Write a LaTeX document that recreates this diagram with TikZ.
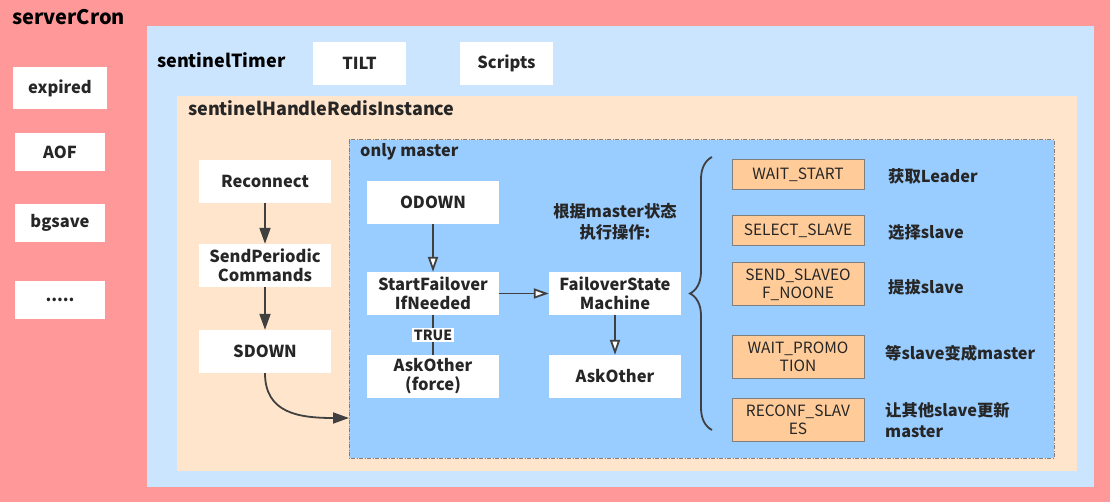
\documentclass[tikz,border=0pt]{standalone}
\usepackage{fontspec}
\setmainfont{Noto Sans CJK SC}
\usetikzlibrary{arrows.meta}
\usetikzlibrary{positioning}
\usetikzlibrary{decorations.pathreplacing}
\definecolor{cronpink}{HTML}{FF9999}
\definecolor{timerblue}{HTML}{CCE5FF}
\definecolor{handlepeach}{HTML}{FFE5CC}
\definecolor{masterblue}{HTML}{99CCFF}
\definecolor{stateorange}{HTML}{FFCC99}
\definecolor{txtgray}{HTML}{262626}
\definecolor{linegray}{HTML}{404040}
\definecolor{bordergray}{HTML}{7F7F7F}
\tikzset{
  box/.style={fill=white, minimum width=132pt, minimum height=43pt, inner sep=0pt,
    align=center, text=txtgray, font=\fontsize{16.5}{19}\selectfont\bfseries},
  smallbox/.style={box, minimum width=90pt, minimum height=38pt},
  statebox/.style={fill=stateorange, draw=bordergray, line width=1pt, minimum width=132pt,
    minimum height=30pt, inner sep=0pt, align=center, text=txtgray,
    font=\fontsize{15.5}{18}\selectfont},
  title/.style={anchor=west, inner sep=0pt, text=black, font=\fontsize{18}{21}\selectfont\bfseries},
  note/.style={anchor=west, inner sep=0pt, align=left, text=txtgray, font=\fontsize{16.3}{21}\selectfont\bfseries},
  flow/.style={draw=linegray, line width=1.8pt, -{Triangle[length=16pt,width=11pt]}},
  openflow/.style={draw=linegray, line width=1.8pt, -{Triangle[open,length=15pt,width=10pt,fill=white]}}
}
\begin{document}
\begin{tikzpicture}[x=1pt, y=-1pt]
  \useasboundingbox (0,0) rectangle (1110,502);
  % nested areas
  \fill[cronpink] (0,0) rectangle (1110,502);
  \fill[timerblue] (147,26) rectangle (1094,487);
  \fill[handlepeach] (177,96) rectangle (1077,471);
  \draw[fill=masterblue, draw=bordergray, line width=1pt, dash pattern=on 4pt off 1.5pt on 1pt off 1.5pt]
    (349,140) rectangle (1054,458);

  \node[title, font=\fontsize{20}{23}\selectfont\bfseries] (cronlabel) at (12,17) {serverCron};
  \node[title] (timerlabel) at (157,60) {sentinelTimer};
  \node[title, text=txtgray] (handlelabel) at (188,108) {sentinelHandleRedisInstance};
  \node[title, text=txtgray, font=\fontsize{16.3}{19}\selectfont\bfseries] (masterlabel) at (360,152) {only master};

  % serverCron tasks
  \node[smallbox, minimum width=94pt, minimum height=42pt] (expired) at (60,88) {expired};
  \node[smallbox] (aof) at (60,152) {AOF};
  \node[smallbox] (bgsave) at (60,223) {bgsave};
  \node[smallbox] (more) at (60,300) {.....};

  % sentinelTimer tasks
  \node[box, minimum width=93pt] (tilt) at (359.5,63.5) {TILT};
  \node[box, minimum width=93pt] (scripts) at (506.5,63.5) {Scripts};

  % every instance
  \node[box] (reconnect) at (265,181.5) {Reconnect};
  \node[box] (periodic) at (265,265.5) {SendPeriodic\\Commands};
  \node[box] (sdown) at (265,351.5) {SDOWN};
  \coordinate (masterin) at (349,418);

  \draw[flow] (reconnect) -- (periodic);
  \draw[flow] (periodic) -- (sdown);
  \draw[flow] (sdown.south) .. controls +(0,40) and +(-50,0) .. (masterin);

  % master only
  \node[box] (odown) at (433,202.5) {ODOWN};
  \node[box] (startfo) at (433,293.5) {StartFailover\\IfNeeded};
  \node[box] (askforce) at (433,376.5) {AskOther\\(force)};
  \node[box] (fsm) at (615,293.5) {FailoverState\\Machine};
  \node[box] (askother) at (615,376.5) {AskOther};
  \node[note, anchor=center, align=center] (fsmnote) at (615,222) {根据master状态\\执行操作:};

  \draw[openflow] (odown) -- (startfo);
  \draw[openflow] (startfo) -- (fsm);
  \draw[openflow] (fsm) -- (askother);
  \draw[draw=linegray, line width=1.8pt] (startfo) -- (askforce)
    node[midway, fill=white, inner sep=1.5pt, text=txtgray, font=\fontsize{14}{16}\selectfont\bfseries] (truelabel) {TRUE};

  % failover states
  \coordinate (bracebot) at (712,430);
  \coordinate (bracetop) at (712,157);
  \draw[draw=linegray, line width=1.8pt, decorate, decoration={brace, amplitude=22pt}] (bracebot) -- (bracetop);

  \node[statebox] (waitstart) at (798,175) {WAIT\_START};
  \node[statebox] (selslave) at (798,231) {SELECT\_SLAVE};
  \node[statebox, minimum height=43pt] (sendslaveof) at (798,284.5) {SEND\_SLAVEO\\F\_NOONE};
  \node[statebox, minimum height=43pt] (waitpromo) at (798,356.5) {WAIT\_PROMO\\TION};
  \node[statebox, minimum height=43pt] (reconf) at (798,419.5) {RECONF\_SLAV\\ES};

  \node[note] (leadernote) at (888,176) {获取Leader};
  \node[note] (selnote) at (888,232) {选择slave};
  \node[note] (promotenote) at (888,287) {提拔slave};
  \node[note] (waitnote) at (885,353) {等slave变成master};
  \node[note] (reconfnote) at (885,420) {让其他slave更新\\master};
\end{tikzpicture}
\end{document}
